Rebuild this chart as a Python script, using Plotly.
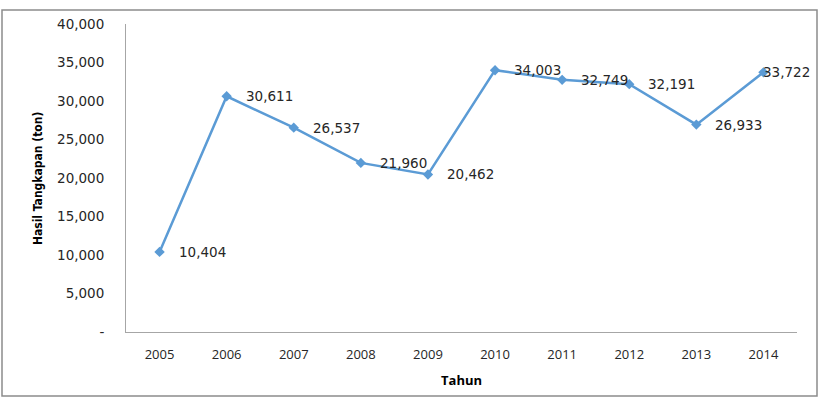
import plotly.graph_objects as go

years = [2005, 2006, 2007, 2008, 2009, 2010, 2011, 2012, 2013, 2014]
catch_ton = [10404, 30611, 26537, 21960, 20462, 34003, 32749, 32191, 26933, 33722]
y_tickvals = [0, 5000, 10000, 15000, 20000, 25000, 30000, 35000, 40000]
y_ticktext = ["-", "5,000", "10,000", "15,000", "20,000", "25,000", "30,000", "35,000", "40,000"]

line_color = "#5B9BD5"
text_color = "#262626"
axis_color = "#A6A6A6"

fig = go.Figure()
fig.add_trace(go.Scatter(
    x=years, y=catch_ton, mode="lines+markers",
    line=dict(color=line_color, width=2.5),
    marker=dict(symbol="diamond", size=8, color=line_color),
    hoverinfo="skip", showlegend=False,
))

annotations = []
for i, (yr, v) in enumerate(zip(years, catch_ton)):
    last = i == len(years) - 1
    annotations.append(dict(
        x=yr, y=v, xref="x", yref="y", text=f"{v:,}", showarrow=False,
        xanchor="left", yanchor="middle", xshift=-2 if last else 17,
        font=dict(family="DejaVu Sans", size=13.5, color=text_color),
    ))

annotations.append(dict(
    x=-0.131, y=0.5, xref="paper", yref="paper", text="<b>Hasil Tangkapan (ton)</b>",
    textangle=-90, showarrow=False, xanchor="center", yanchor="middle",
    font=dict(family="DejaVu Sans Condensed, Liberation Sans", size=12, color="#000000"),
))
annotations.append(dict(
    x=0.5, y=-0.12, xref="paper", yref="paper", text="<b>Tahun</b>",
    showarrow=False, xanchor="center", yanchor="top",
    font=dict(family="Open Sans", size=13, color="#000000"),
))

fig.update_layout(
    width=820, height=400,
    margin=dict(l=126, r=23, t=24, b=68, autoexpand=False),
    paper_bgcolor="white", plot_bgcolor="white",
    annotations=annotations,
    shapes=[dict(type="rect", xref="paper", yref="paper",
                 x0=-124 / 671, x1=1 + 20 / 671, y0=-64 / 308, y1=1 + 14 / 308,
                 line=dict(color="#8C8C8C", width=1.5), layer="below")],
    xaxis=dict(
        range=[2004.5, 2014.5], tickmode="array", tickvals=years,
        ticktext=[str(y) for y in years],
        showgrid=False, zeroline=False, automargin=False,
        showline=True, linecolor=axis_color, linewidth=1,
        ticks="", ticklabelstandoff=10,
        tickfont=dict(family="Open Sans", size=13, color=text_color),
    ),
    yaxis=dict(
        range=[0, 40000], tickmode="array", tickvals=y_tickvals, ticktext=y_ticktext,
        showgrid=False, zeroline=False, automargin=False,
        showline=True, linecolor=axis_color, linewidth=1,
        ticks="", ticklabelstandoff=18,
        tickfont=dict(family="DejaVu Sans", size=13.5, color=text_color),
    ),
)

fig.write_html("out.html", config={"displayModeBar": False},
               post_script="document.body.style.margin='0';")
